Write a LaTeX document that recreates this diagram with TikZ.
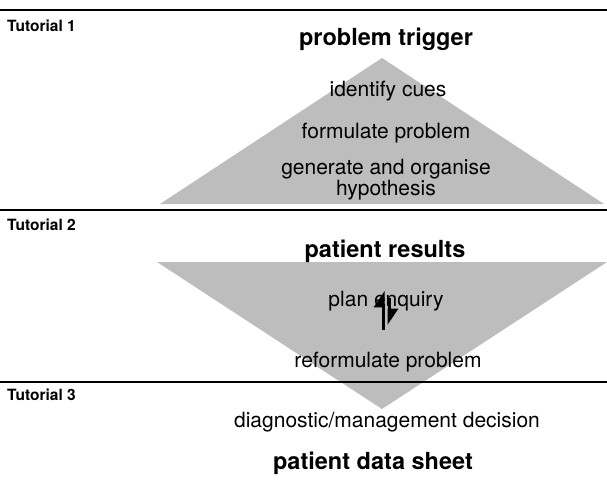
\documentclass[tikz,border=0pt]{standalone}
\usepackage{fontspec}
\setmainfont{TeX Gyre Heros}
\usetikzlibrary{arrows.meta}
\tikzset{
  greyarea/.style={fill=black!26, draw=none},
  rule/.style={line width=1.2pt},
  tut/.style={anchor=base west, inner sep=0pt, font=\bfseries\fontsize{15.5}{17}\selectfont},
  title/.style={anchor=base, inner sep=0pt, font=\bfseries\fontsize{23.5}{26}\selectfont},
  txt/.style={anchor=base, inner sep=0pt, font=\fontsize{21}{22}\selectfont},
  updown/.style={line width=3pt, -{Triangle[harpoon,length=14pt,width=18pt]}}
}
\begin{document}
\begin{tikzpicture}[x=1pt,y=-1pt]
                \useasboundingbox (0,0) rectangle (607,481);
                % the two triangles
                \coordinate (A) at (160,204);
                \coordinate (B) at (382,58);
                \coordinate (C) at (604,204);
                \coordinate (D) at (157,262);
                \coordinate (E) at (607,262);
                \coordinate (F) at (382,409);
                \fill[greyarea] (A) -- (B) -- (C) -- cycle;
                \fill[greyarea] (D) -- (E) -- (F) -- cycle;
                % tutorial rules
                \foreach \y/\b/\n in {10/32/1,210/230/2,382/400/3} {
                    \draw[rule] (0,\y) -- (607,\y);
                    \node[tut] (tut\n) at (7,\b) {Tutorial \n};
                }
                \node[title] (trigger) at (386,46) {problem trigger};
                \node[txt] (cues) at (388,97) {identify cues};
                \node[txt] (formulate) at (386,139) {formulate problem};
                \node[txt] (generate) at (386,175) {generate and organise};
                \node[txt] (hypo) at (386,196) {hypothesis};
                \node[title] (results) at (385,257) {patient results};
                \node[txt] (enquiry) at (386,306) {plan enquiry};
                \node[txt] (reform) at (388,367) {reformulate problem};
                \node[txt] (decision) at (387,427) {diagnostic/management decision};
                \node[title] (datasheet) at (373,469) {patient data sheet};
                % up and down
                \coordinate (u1) at (383,330);
                \coordinate (u2) at (383,291);
                \coordinate (d1) at (389,298);
                \coordinate (d2) at (389,325);
                \draw[updown] (u1) -- (u2);
                \draw[updown] (d1) -- (d2);
            \end{tikzpicture}
\end{document}
